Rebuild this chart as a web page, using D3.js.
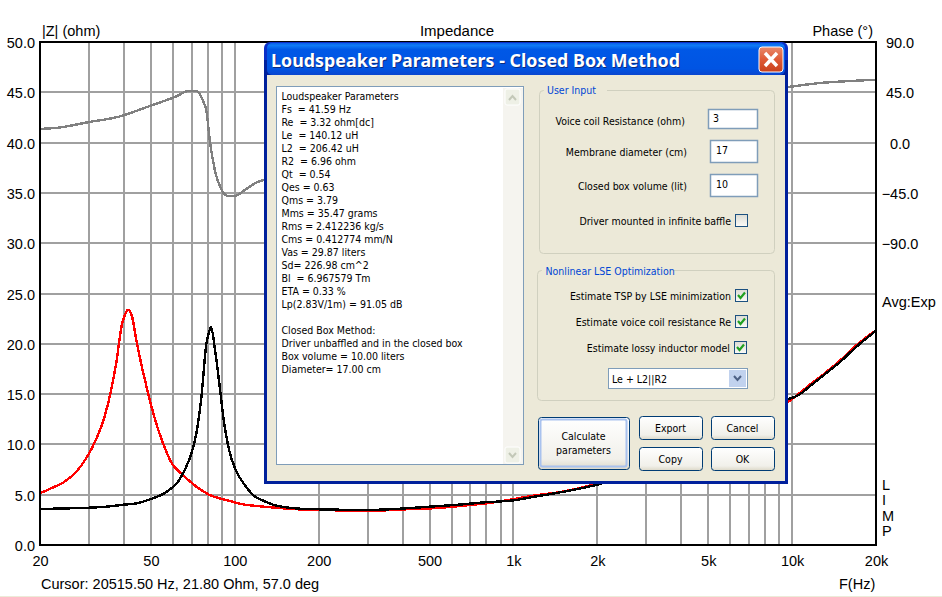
<!DOCTYPE html>
<html>
<head>
<meta charset="utf-8">
<script src="https://cdnjs.cloudflare.com/ajax/libs/d3/7.8.5/d3.min.js"></script>
<style>
    html, body { margin: 0; padding: 0; background: #fff; overflow: hidden; }
    svg { display: block; }
    .chart text { font-family: "Liberation Sans", Arial, sans-serif; font-size: 14.5px; fill: #000; }
    .dlg text { font-family: "DejaVu Sans Condensed", "DejaVu Sans", sans-serif; font-size: 10.5px; fill: #000; }
    .grid line { stroke: #a0a0a0; stroke-width: 2; shape-rendering: crispEdges; }
    .curve { fill: none; stroke-width: 2.4; shape-rendering: crispEdges; }
</style>
</head>
<body>
<div id="chart"></div>
<script>
// Impedance curves [Hz, value]
const PHASE = [[20,12.2],[23.5,13.5],[30,18.4],[38,22.9],[49.5,32.7],[61,40.8],[69,46.4],[73,46.2],[76.7,38.1],[79.3,26.5],
    [81.3,2.3],[84.8,-24.5],[89.8,-42.4],[94.4,-47.8],[100,-47.8],[108.6,-42.4],[121,-35.2],[127,-33.5],
    [9674,49.7],[12590,53.3],[16140,55.1],[20000,56.3]];

const FREE_AIR = [[20,5.14],[22.3,5.73],[24.5,6.29],[27,7.29],[29.3,8.62],[31.9,10.6],[34.1,12.75],[36.1,15.57],[37.6,18.2],
    [39.2,21.7],[40.3,22.86],[41.4,23.4],[42.8,22.7],[44.3,20.4],[46.5,17.6],[48.9,15.07],[51.2,12.92],[55.3,10.1],[59.2,8.2],
    [65.2,6.95],[72.8,5.8],[81.3,4.97],[93.3,4.47],[110,3.98],[118,3.9],[139,3.71],[168,3.55],[200,3.46],[326,3.43],[413,3.55],
    [512,3.65],[738,4.04],[800,4.14],[1225,4.97],[1500,5.3],[2000,6.1],[10537,15.0],[11604,15.95],[13140,17.1],[14873,18.35],
    [16840,19.75],[20000,21.35]];

const CLOSED_BOX = [[20,3.58],[25.2,3.64],[30.1,3.71],[35.6,3.84],[39.7,4.0],[44.3,4.14],[50.9,4.64],[55.3,5.07],[59.2,5.63],
    [62.6,6.3],[66.1,7.46],[69.9,9.11],[72.8,11.1],[75.9,14.74],[79.1,20.05],[80.9,21.2],[82.2,21.7],[84.8,19.55],[88.3,15.74],
    [91.3,12.43],[95.4,9.44],[100.8,7.46],[108.6,5.96],[116.4,4.97],[126.4,4.41],[137.3,4.0],[153.3,3.74],[171,3.61],[200,3.55],
    [300,3.48],[408,3.64],[501,3.81],[616,3.98],[790,4.24],[1000,4.44],[1190,4.8],[1410,5.14],[2000,6.0],[9703,14.5],[10537,14.9],
    [11604,15.8],[13140,17.0],[14873,18.2],[16840,19.6],[20000,21.3]];

const REPORT = ["Loudspeaker Parameters","Fs  = 41.59 Hz","Re  = 3.32 ohm[dc]","Le  = 140.12 uH","L2  = 206.42 uH","R2  = 6.96 ohm",
    "Qt  = 0.54","Qes = 0.63","Qms = 3.79","Mms = 35.47 grams","Rms = 2.412236 kg/s","Cms = 0.412774 mm/N","Vas = 29.87 liters",
    "Sd= 226.98 cm^2","Bl  = 6.967579 Tm","ETA = 0.33 %","Lp(2.83V/1m) = 91.05 dB","","Closed Box Method:",
    "Driver unbaffled and in the closed box","Box volume = 10.00 liters","Diameter= 17.00 cm"];

const margin = { top: 42, right: 66, bottom: 52, left: 40 },
    width = 942 - margin.left - margin.right,
    height = 597 - margin.top - margin.bottom;

const svg = d3.select("#chart").append("svg").attr("width", 942).attr("height", 597);
const g = svg.append("g").attr("class", "chart").attr("transform", `translate(${margin.left},${margin.top})`);

const x = d3.scaleLog().domain([20, 20000]).range([0, width]);
const y = d3.scaleLinear().domain([0, 50]).range([height, 0]);
const yPhase = d3.scaleLinear().domain([-360, 90]).range([height, 0]);

function fmtFreq(f) { return f >= 1000 ? (f / 1000) + "k" : "" + f; }

// Grid lines, snapped to whole pixels so they all come out the same width
const gridFreqs = [];
[10, 100, 1000].forEach(d => { for (let i = 1; i < 10; i++) { if (d * i > 20) gridFreqs.push(d * i); } });
gridFreqs.push(10000);

g.append("g").attr("class", "grid").attr("transform", `translate(0,${height})`)
    .call(d3.axisBottom(x).tickValues(gridFreqs).tickSize(-height).tickFormat(""))
    .call(a => a.select(".domain").remove())
    .selectAll(".tick").attr("transform", d => `translate(${Math.round(x(d))},0)`);
g.append("g").attr("class", "grid")
    .call(d3.axisLeft(y).tickValues(d3.range(5, 50, 5)).tickSize(-width).tickFormat(""))
    .call(a => a.select(".domain").remove())
    .selectAll(".tick").attr("transform", d => `translate(0,${Math.round(y(d))})`);

// Curves, black goes over the red one
const line = d3.line().x(d => x(d[0])).y(d => y(d[1])).curve(d3.curveMonotoneX);
const phaseLine = d3.line().x(d => x(d[0])).y(d => yPhase(d[1])).curve(d3.curveMonotoneX);

g.append("path").attr("class", "curve").attr("stroke", "#808080").attr("d", phaseLine(PHASE));
g.append("path").attr("class", "curve").attr("stroke", "#ff0000").attr("d", line(FREE_AIR));
g.append("path").attr("class", "curve").attr("stroke", "#000000").attr("d", line(CLOSED_BOX));

// Frame
g.append("rect").attr("width", width).attr("height", height)
    .attr("fill", "none").attr("stroke", "#000").attr("stroke-width", 2).attr("shape-rendering", "crispEdges");

// Axes
function cleanAxis(a) { a.select(".domain").remove(); a.selectAll("line").remove(); a.selectAll("text").attr("fill", "#000"); }

g.append("g").attr("transform", `translate(-5,0)`)
    .call(d3.axisLeft(y).tickValues(d3.range(0, 51, 5)).tickSize(0).tickPadding(0).tickFormat(d3.format(".1f")))
    .call(cleanAxis).attr("font-family", null).attr("font-size", null)
    .selectAll("text").attr("dy", "0.38em");

g.append("g").attr("transform", `translate(${width + 24},0)`)
    .call(d3.axisRight(yPhase).tickValues([90, 45, 0, -45, -90]).tickSize(0).tickPadding(0).tickFormat(d3.format(".1f")))
    .call(cleanAxis).attr("font-family", null).attr("font-size", null)
    .selectAll("text").attr("text-anchor", "middle").attr("dy", "0.38em");

g.append("g").attr("transform", `translate(0,${height + 21})`)
    .call(d3.axisBottom(x).tickValues([20, 50, 100, 200, 500, 1000, 2000, 5000, 10000, 20000]).tickSize(0).tickPadding(0).tickFormat(fmtFreq))
    .call(cleanAxis).attr("font-family", null).attr("font-size", null)
    .selectAll("text").attr("dy", 0).attr("y", 0).attr("text-anchor", "middle");

// Labels around the plot
const labels = svg.append("g").attr("class", "chart");
[
    ["|Z| (ohm)", 42, 36, "start"],
    ["Impedance", 457, 36, "middle"],
    ["Phase (°)", 873, 36, "end"],
    ["Avg:Exp", 882, 307, "start"],
    ["L", 882, 489.5, "start"],
    ["I", 882, 505, "start"],
    ["M", 882, 520.5, "start"],
    ["P", 882, 536, "start"],
    ["Cursor: 20515.50 Hz, 21.80 Ohm, 57.0 deg", 41, 589, "start"],
    ["F(Hz)", 839, 589, "start"]
].forEach(l => {
    labels.append("text").attr("x", l[1]).attr("y", l[2]).attr("text-anchor", l[3]).text(l[0]);
});
labels.selectAll("text").filter(function() { return this.textContent == "Impedance"; }).style("font-size", "15px");

svg.append("rect").attr("x", 0).attr("y", 596).attr("width", 942).attr("height", 1).attr("fill", "#ecebd8");

// The dialog that sits on top of the chart
const defs = svg.append("defs");
function gradient(id, stops) {
    const lg = defs.append("linearGradient").attr("id", id).attr("x1", 0).attr("y1", 0).attr("x2", 0).attr("y2", 1);
    stops.forEach(s => lg.append("stop").attr("offset", s[0]).attr("stop-color", s[1]));
}
gradient("titleBar", [[0, "#0a5fe8"], [0.08, "#0f7bf5"], [0.2, "#0058e6"], [0.8, "#0054e3"], [1, "#0a46cf"]]);
gradient("btn", [[0, "#ffffff"], [0.8, "#f1f0ea"], [1, "#dcd8c8"]]);
gradient("closeBtn", [[0, "#e98a6c"], [0.5, "#df5a36"], [1, "#c8401c"]]);
gradient("chk", [[0, "#dcdcd4"], [1, "#fbfbf8"]]);

const dlg = svg.append("g").attr("class", "dlg");

function box(px, py, w, h, fill, stroke, sw, rx) {
    return dlg.append("rect").attr("x", px).attr("y", py).attr("width", w).attr("height", h)
        .attr("fill", fill).attr("stroke", stroke || "none").attr("stroke-width", sw || 0).attr("rx", rx || 0);
}
function label(txt, px, py, anchor, color) {
    return dlg.append("text").attr("x", px).attr("y", py).attr("text-anchor", anchor || "start")
        .attr("fill", color || "#000").style("fill", color || "#000").text(txt);
}

box(264, 42, 524, 442, "#0a2fc8", "none", 0, 6);
box(264, 60, 524, 424, "#00209c");
box(267, 43, 518, 32, "url(#titleBar)", "none", 0, 5);
box(267, 75, 518, 406, "#ece9d8");

dlg.append("text").attr("x", 272).attr("y", 68).attr("textLength", 409).attr("lengthAdjust", "spacingAndGlyphs")
    .style("font-size", "18.5px").style("font-weight", "bold").style("font-family", "'Noto Sans', sans-serif").style("fill", "#0a2a80")
    .text("Loudspeaker Parameters - Closed Box Method");
dlg.append("text").attr("x", 271).attr("y", 67).attr("textLength", 409).attr("lengthAdjust", "spacingAndGlyphs")
    .style("font-size", "18.5px").style("font-weight", "bold").style("font-family", "'Noto Sans', sans-serif").style("fill", "#fff")
    .text("Loudspeaker Parameters - Closed Box Method");

// close button
box(759, 47, 24, 25, "url(#closeBtn)", "#fff", 1, 3);
dlg.append("path").attr("d", "M765,53 L777,66 M777,53 L765,66").attr("stroke", "#fff").attr("stroke-width", 3.4).attr("fill", "none");

// report box
box(276.5, 86.5, 247, 378, "#fff", "#7f9db9", 1);
box(503, 88, 20, 376, "#f5f4ef");
box(505, 89, 15, 16, "#eef0e6", "#fff", 1, 2);
box(505, 447, 15, 16, "#eef0e6", "#fff", 1, 2);
dlg.append("path").attr("d", "M509,100 L512.5,96 L516,100").attr("stroke", "#c3c8b8").attr("stroke-width", 2).attr("fill", "none");
dlg.append("path").attr("d", "M509,453 L512.5,457 L516,453").attr("stroke", "#c3c8b8").attr("stroke-width", 2).attr("fill", "none");
REPORT.forEach((t, i) => { label(t, 281.5, 100 + i * 13).style("white-space", "pre"); });

// group boxes
box(539.5, 90.5, 235, 163, "none", "#d0d0bf", 1, 4);
box(537.5, 270.5, 237, 130, "none", "#d0d0bf", 1, 4);
box(544, 85, 63, 12, "#ece9d8");
box(542, 265, 130, 12, "#ece9d8");
label("User Input", 547, 94, "start", "#0046d5");
label("Nonlinear LSE Optimization", 545.5, 275, "start", "#0046d5");

// user inputs
[
    ["Voice coil Resistance (ohm)", 685, 125, "3", 708.5, 109.5, 49, 19, 713, 122],
    ["Membrane diameter (cm)", 687, 156, "17", 710.5, 140.5, 47, 22, 716, 154],
    ["Closed box volume (lit)", 687, 190, "10", 710.5, 174.5, 47, 22, 716, 188]
].forEach(r => {
    label(r[0], r[1], r[2], "end");
    box(r[4], r[5], r[6], r[7], "#fff", "#7f9db9", 1.5);
    label(r[3], r[8], r[9]);
});

function checkbox(px, py, checked) {
    box(px + .5, py + .5, 12, 12, "url(#chk)", "#1c5180", 1);
    if (checked) {
        dlg.append("path").attr("d", `M${px + 3},${py + 6} L${px + 5.5},${py + 9} L${px + 10},${py + 3.5}`)
            .attr("stroke", "#21a121").attr("stroke-width", 2.2).attr("fill", "none");
    }
}
label("Driver mounted in infinite baffle", 731, 225, "end");
checkbox(735, 214, false);
label("Estimate TSP by LSE minimization", 731, 300, "end");
checkbox(735, 289, true);
label("Estimate voice coil resistance Re", 731, 326, "end");
checkbox(735, 315, true);
label("Estimate lossy inductor model", 730, 352, "end");
checkbox(734, 341, true);

// combo box
box(608.5, 368.5, 139, 20, "#fff", "#7f9db9", 1);
box(729, 370, 17, 17, "#c1d2ee");
dlg.append("path").attr("d", "M734,376 L737.5,380 L741,376").attr("stroke", "#4d6185").attr("stroke-width", 2).attr("fill", "none");
label("Le + L2||R2", 612, 383);

// buttons
function button(px, py, w, h, lines, baselines) {
    box(px + .5, py + .5, w, h, "url(#btn)", "#003c74", 1, 3);
    lines.forEach((t, i) => label(t, px + w / 2, baselines[i], "middle"));
}
button(538, 417, 91, 52, ["Calculate", "parameters"], [440, 454]);
box(540.5, 419.5, 86, 47, "none", "#a9c2ee", 2, 2);
button(639, 416, 63, 23, ["Export"], [432]);
button(711, 416, 63, 23, ["Cancel"], [432]);
button(639, 447, 63, 23, ["Copy"], [463]);
button(711, 447, 63, 23, ["OK"], [463]);
// button texts go above the inner highlight of the default button
dlg.selectAll("text").raise();
</script>
</body>
</html>
